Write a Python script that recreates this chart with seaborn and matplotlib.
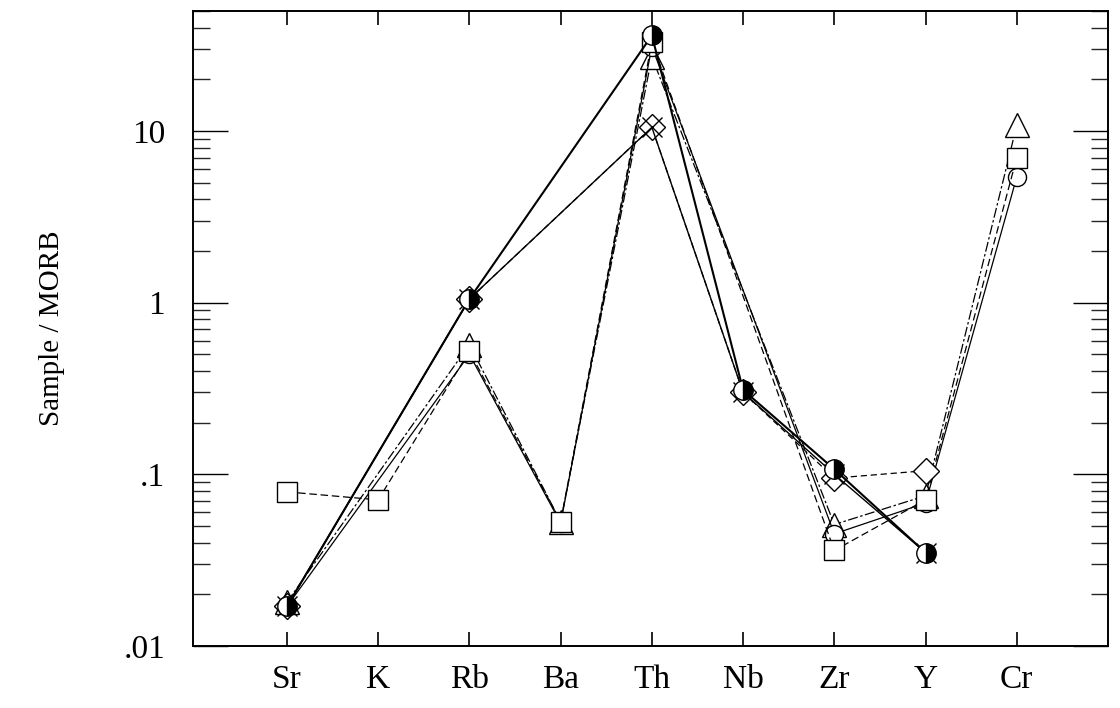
import numpy as np
import pandas as pd
import matplotlib
matplotlib.use("Agg")
import matplotlib.pyplot as plt
from matplotlib.ticker import FixedLocator, FixedFormatter, LogLocator, NullFormatter
import seaborn as sns

nan = np.nan

# MORB-normalised trace-element patterns
elements = ["Sr", "K", "Rb", "Ba", "Th", "Nb", "Zr", "Y", "Cr"]
square_vals = [0.079, 0.071, 0.52, 0.053, 33.0, nan, 0.036, 0.071, 7.0]
triangle_vals = [0.018, nan, 0.57, 0.053, 27.0, nan, 0.051, 0.075, 10.8]
circle_vals = [0.017, nan, 0.50, 0.052, 31.0, nan, 0.045, 0.068, 5.4]
halfdisc_vals = [0.017, nan, 1.05, nan, 36.0, 0.31, 0.107, 0.035, nan]
cross_vals = [0.017, nan, 1.05, nan, 10.5, 0.30, 0.100, 0.035, nan]
diamond_vals = [0.017, nan, 1.05, nan, 10.5, 0.30, 0.095, 0.105, nan]

y_ticks = [0.01, 0.1, 1, 10]
y_tick_labels = [".01", ".1", "1", "10"]

series = [
    ("triangle", triangle_vals, dict(marker="^", markersize=17, markerfacecolor="white",
                                     linestyle=(0, (8, 2, 2, 2)), linewidth=0.9)),
    ("circle", circle_vals, dict(marker="o", markersize=13, markerfacecolor="white",
                                 linestyle="-", linewidth=0.9)),
    ("square", square_vals, dict(marker="s", markersize=15, markerfacecolor="white",
                                 linestyle=(0, (6, 3)), linewidth=0.9)),
    ("diamond", diamond_vals, dict(marker="D", markersize=13, markerfacecolor="white",
                                   linestyle=(0, (5, 3)), linewidth=0.9)),
    ("cross", cross_vals, dict(marker="x", markersize=14, markerfacecolor="none",
                               linestyle="-", linewidth=1.0)),
    ("halfdisc", halfdisc_vals, dict(marker="o", markersize=14, markerfacecolor="black",
                                     markerfacecoloralt="white", fillstyle="right",
                                     linestyle="-", linewidth=1.5)),
]

rows = []
for name, vals, _ in series:
    for i, (el, v) in enumerate(zip(elements, vals)):
        if not np.isnan(v):
            rows.append({"sample": name, "pos": i, "element": el, "value": v})
df = pd.DataFrame(rows)

sns.set_theme(style="ticks")
plt.rcParams["font.family"] = ["Liberation Serif", "DejaVu Serif"]
plt.rcParams["axes.linewidth"] = 1.4

fig = plt.figure(figsize=(11.2, 7.08), dpi=100)
ax = fig.add_axes([0.1723, 0.0876, 0.8170, 0.8969])

for name, _, style in series:
    sub = df[df["sample"] == name]
    sns.lineplot(data=sub, x="pos", y="value", ax=ax, color="black",
                 markeredgecolor="black", markeredgewidth=1.0,
                 estimator=None, sort=True, legend=False, **style)

ax.set_yscale("log")
ax.set_xlim(-1.03, 9.0)
ax.set_ylim(0.01, 50)

ax.set_xticks(range(len(elements)))
ax.set_xticklabels(elements)
ax.xaxis.set_minor_locator(FixedLocator([]))
ax.yaxis.set_major_locator(FixedLocator(y_ticks))
ax.yaxis.set_major_formatter(FixedFormatter(y_tick_labels))
ax.yaxis.set_minor_locator(LogLocator(base=10, subs=np.arange(2, 10)))
ax.yaxis.set_minor_formatter(NullFormatter())

ax.tick_params(axis="x", which="major", direction="in", length=10, width=1.2,
               top=True, bottom=True, labelsize=24, pad=13, colors="black")
ax.tick_params(axis="y", which="major", direction="in", length=25, width=1.0,
               left=True, right=True, labelsize=24, pad=20, colors="black")
ax.tick_params(axis="y", which="minor", direction="in", length=12, width=1.0,
               left=True, right=True)

for s in ax.spines.values():
    s.set_color("black")

ax.set_xlabel("")
ax.set_ylabel("Sample / MORB", fontsize=21, labelpad=42, color="black")

fig.savefig("out.png", dpi=100, facecolor="white")
